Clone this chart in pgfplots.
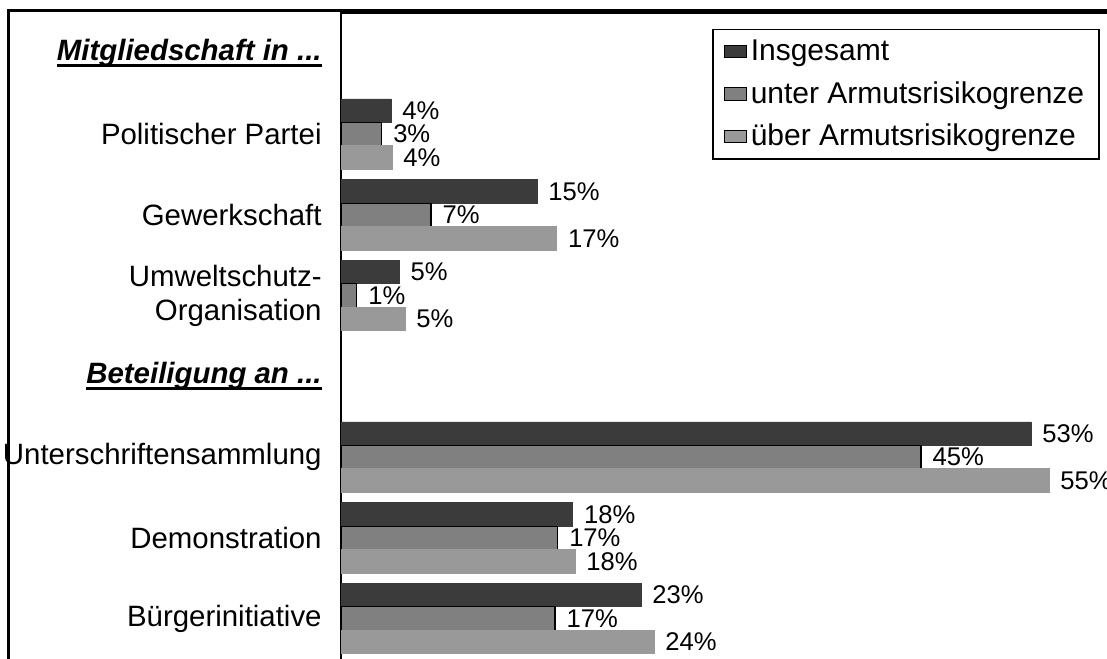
\documentclass[border=0pt]{standalone}
\usepackage{pgfplots}
\pgfplotsset{compat=1.18}
\usepackage{fontspec}
\setmainfont{Liberation Sans}

\definecolor{barDark}{RGB}{59,59,59}
\definecolor{barMid}{RGB}{128,128,128}
\definecolor{barLight}{RGB}{153,153,153}

\newcommand\catfont{\fontsize{14.7}{17}\selectfont}
\newcommand\legfont{\fontsize{15}{17}\selectfont}
\newcommand\valfont{\fontsize{12.8}{14}\selectfont}
% bold italic header with a thick underline
\newcommand\hdr[1]{\setbox0\hbox{\bfseries\itshape #1}\rlap{\rule[-3.3pt]{\wd0}{1.5pt}}\box0}

\pgfplotsset{
  boxlegend/.style={legend image code/.code={\draw[##1,draw=black,line width=0.5pt] (0pt,-3.2pt) rectangle (11pt,3.2pt);}},
}

\begin{document}
\begin{tikzpicture}
\useasboundingbox (0,0) rectangle (553.5pt,329pt);
\clip (0,0) rectangle (553.5pt,329pt);
\draw[line width=1.2pt] (4.15pt,-5pt) -- (4.15pt,323.8pt) -- (600pt,323.8pt);
\begin{axis}[
    at={(170.5pt,322.5pt)}, anchor=north west,
    scale only axis,
    width=388.5pt, height=325pt,
    xbar,
    bar width=0.29,
    xmin=0, xmax=60,
    ymin=-0.55, ymax=7.5,
    xtick=\empty,
    ytick={0,1,2,3,4,5,6,7},
    yticklabels={Bürgerinitiative, Demonstration, Unterschriftensammlung,
        {\hdr{Beteiligung an ...}}, {Umweltschutz-\\Organisation},
        Gewerkschaft, Politischer Partei, {\hdr{Mitgliedschaft in ...}}},
    major tick length=0pt,
    yticklabel style={font=\catfont, align=right, inner sep=0pt, xshift=-9.5pt},
    axis line style={line width=0.6pt},
    point meta=explicit symbolic,
    nodes near coords={\pgfplotspointmeta\%},
    nodes near coords style={font=\valfont, anchor=west, inner sep=0pt, xshift=5.5pt},
    legend cell align=left,
    legend style={
        at={(0.9768,0.9754)}, anchor=north east,
        font=\legfont, draw=black, line width=0.75pt,
        row sep=5pt, inner xsep=5.5pt, inner ysep=3pt,
    },
]

% Insgesamt
\addplot[fill=barDark, draw=barDark, bar shift=0.29, boxlegend] coordinates {
    (3.86,6) [4]
    (15.13,5) [15]
    (4.5,4) [5]
    (53.28,2) [53]
    (17.9,1) [18]
    (23.17,0) [23]
};

% unter Armutsrisikogrenze
\addplot[fill=barMid, draw=black, line width=0.6pt, bar shift=0, boxlegend] coordinates {
    (3.14,6) [3]
    (6.95,5) [7]
    (1.21,4) [1]
    (44.79,2) [45]
    (16.73,1) [17]
    (16.53,0) [17]
};

% über Armutsrisikogrenze
\addplot[fill=barLight, draw=barLight, bar shift=-0.29, boxlegend] coordinates {
    (3.94,6) [4]
    (16.66,5) [17]
    (4.94,4) [5]
    (54.67,2) [55]
    (18.07,1) [18]
    (24.17,0) [24]
};

\legend{Insgesamt, unter Armutsrisikogrenze, über Armutsrisikogrenze}
\end{axis}
\end{tikzpicture}
\end{document}
